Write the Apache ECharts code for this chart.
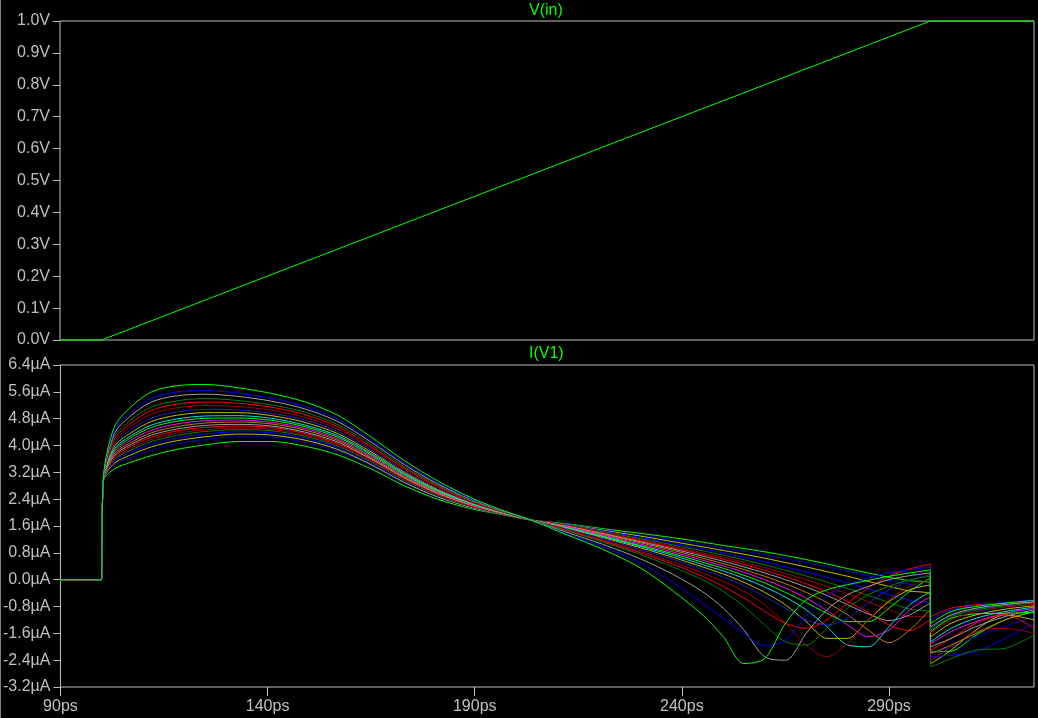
<!DOCTYPE html>
<html>
<head>
<meta charset="utf-8">
<title>V(in) / I(V1)</title>
<script src="https://cdn.jsdelivr.net/npm/echarts@6.0.0/dist/echarts.min.js"></script>
<style>
  html, body { margin: 0; padding: 0; background: #000; }
  #chart { width: 1038px; height: 718px; }
</style>
</head>
<body>
<div id="chart"></div>
<script>
// time axis (ps) and tick values
const timeTicks = [90, 140, 190, 240, 290];
const vTicks = [0, 0.1, 0.2, 0.3, 0.4, 0.5, 0.6, 0.7, 0.8, 0.9, 1.0];
const iTicks = [-3.2, -2.4, -1.6, -0.8, 0, 0.8, 1.6, 2.4, 3.2, 4.0, 4.8, 5.6, 6.4];

// V(in) ramp
const vinT = [90, 100, 300, 325];
const vinV = [0, 0, 1, 1];

// sample times for the I(V1) sweep
const tPs = [90, 99.9, 100, 100.4, 103, 107, 112, 118, 125, 133, 141, 149, 157, 165, 173, 181, 189, 196, 203.5,
  212, 221, 230, 238, 245, 250, 255, 260, 265, 270, 275, 280, 285, 290, 295, 299.9, 300.1, 305, 311, 318, 325];

// I(V1) in uA, one array per step
const step01 = [0,0,0.9,3.1,4.55,5.15,5.6,5.78,5.82,5.72,5.55,5.3,4.9,4.25,3.55,2.95,2.45,2.1,1.78, 1.35,0.9,0.35,-0.35,-1.05,-1.7,-2.5,-2.35,-1.3,-0.6,-0.3,-0.15,-0.02,0.1,0.2,0.29, -1.3,-0.95,-0.8,-0.7,-0.62];
const step02 = [0,0,0.9,3.09,4.43,4.99,5.41,5.59,5.64,5.56,5.41,5.17,4.78,4.16,3.48,2.9,2.42,2.09,1.78, 1.38,0.98,0.5,-0.1,-0.7,-1.15,-1.6,-1.97,-1.8,-1.1,-0.5,-0.15,0.05,0.2,0.3,0.38, -1.2,-0.9,-0.78,-0.68,-0.6];
const step03 = [0,0,0.9,3.08,4.35,4.89,5.3,5.48,5.53,5.46,5.32,5.09,4.71,4.1,3.43,2.86,2.4,2.08,1.78, 1.42,1.05,0.62,0.15,-0.36,-0.85,-1.5,-2.3,-2.4,-1.6,-0.9,-0.45,-0.2,0.0,0.12,0.2, -1.4,-1.05,-0.85,-0.74,-0.66];
const step04 = [0,0,0.9,3.06,4.26,4.76,5.15,5.33,5.4,5.34,5.21,4.99,4.62,4.03,3.37,2.82,2.37,2.07,1.78, 1.46,1.12,0.75,0.37,0.0,-0.35,-0.8,-1.35,-1.85,-1.95,-1.45,-0.85,-0.45,-0.2,0.0,0.1, -1.5,-1.1,-0.9,-0.78,-0.7];
const step05 = [0,0,0.9,3.06,4.19,4.67,5.05,5.23,5.3,5.26,5.14,4.92,4.56,3.97,3.33,2.79,2.35,2.06,1.78, 1.48,1.15,0.8,0.45,0.1,-0.2,-0.55,-0.95,-1.3,-1.45,-1.2,-0.7,-0.25,0.1,0.32,0.46, -1.1,-0.85,-0.75,-0.7,-0.68];
const step06 = [0,0,0.9,3.05,4.11,4.57,4.94,5.12,5.19,5.16,5.05,4.84,4.49,3.92,3.29,2.76,2.33,2.05,1.78, 1.5,1.18,0.85,0.52,0.2,-0.05,-0.35,-0.75,-1.3,-1.95,-2.3,-1.9,-1.2,-0.6,-0.2,0.0, -1.6,-1.2,-0.95,-0.82,-0.74];
const step07 = [0,0,0.9,3.04,4.04,4.47,4.82,5.0,5.08,5.06,4.96,4.76,4.42,3.86,3.24,2.72,2.31,2.04,1.78, 1.52,1.22,0.9,0.6,0.3,0.08,-0.18,-0.5,-0.85,-1.2,-1.35,-1.15,-0.7,-0.3,-0.02,0.15, -1.45,-1.05,-0.88,-0.76,-0.7];
const step08 = [0,0,0.9,3.03,3.97,4.38,4.72,4.9,4.98,4.98,4.89,4.69,4.35,3.81,3.2,2.69,2.3,2.03,1.78, 1.53,1.25,0.95,0.66,0.38,0.17,-0.08,-0.38,-0.75,-1.25,-1.75,-1.75,-1.2,-0.65,-0.3,-0.16, -1.7,-1.3,-1.05,-0.88,-0.78];
const step09 = [0,0,0.9,3.02,3.9,4.29,4.61,4.79,4.88,4.89,4.81,4.61,4.29,3.76,3.16,2.66,2.28,2.02,1.78, 1.55,1.28,0.99,0.72,0.45,0.26,0.04,-0.22,-0.52,-0.9,-1.4,-1.95,-2.0,-1.4,-0.75,-0.37, -1.85,-1.45,-1.15,-0.95,-0.82];
const step10 = [0,0,0.9,3.02,3.85,4.23,4.54,4.72,4.81,4.82,4.75,4.56,4.24,3.72,3.13,2.64,2.27,2.02,1.78, 1.56,1.3,1.02,0.77,0.52,0.34,0.13,-0.1,-0.38,-0.68,-1.0,-1.25,-1.25,-0.85,-0.35,0.05, -1.55,-1.15,-1.02,-1.0,-0.98];
const step11 = [0,0,0.9,3.01,3.8,4.16,4.46,4.64,4.74,4.76,4.69,4.51,4.19,3.68,3.1,2.62,2.25,2.01,1.78, 1.58,1.33,1.06,0.82,0.58,0.41,0.22,0.0,-0.25,-0.55,-0.92,-1.35,-1.7,-1.5,-0.9,-0.52, -1.9,-1.55,-1.25,-1.0,-0.86];
const step12 = [0,0,0.9,3.0,3.75,4.09,4.38,4.56,4.67,4.7,4.64,4.46,4.15,3.64,3.07,2.6,2.24,2.0,1.78, 1.59,1.35,1.1,0.87,0.64,0.48,0.3,0.1,-0.12,-0.38,-0.68,-1.05,-1.5,-1.88,-1.5,-0.9, -2.2,-1.95,-1.6,-1.2,-0.95];
const step13 = [0,0,0.9,3.0,3.7,4.03,4.31,4.49,4.6,4.63,4.58,4.4,4.1,3.6,3.04,2.58,2.23,2.0,1.78, 1.6,1.37,1.13,0.91,0.7,0.55,0.38,0.2,0.0,-0.22,-0.47,-0.75,-1.02,-1.22,-1.05,-0.7, -2.0,-1.75,-1.4,-1.1,-0.9];
const step14 = [0,0,0.9,2.99,3.66,3.98,4.25,4.43,4.54,4.58,4.54,4.36,4.06,3.58,3.02,2.56,2.22,1.99,1.78, 1.61,1.39,1.16,0.95,0.75,0.61,0.45,0.28,0.09,-0.12,-0.36,-0.65,-0.98,-1.35,-1.52,-1.2, -2.1,-1.75,-1.3,-1.05,-1.45];
const step15 = [0,0,0.9,2.99,3.61,3.91,4.18,4.36,4.47,4.52,4.48,4.31,4.02,3.54,2.99,2.54,2.2,1.99,1.78, 1.62,1.41,1.19,0.99,0.8,0.67,0.52,0.36,0.18,0.0,-0.2,-0.42,-0.66,-0.9,-1.1,-1.08, -2.4,-2.0,-1.55,-1.45,-1.6];
const step16 = [0,0,0.9,2.98,3.58,3.86,4.12,4.3,4.42,4.47,4.44,4.27,3.98,3.51,2.97,2.52,2.19,1.98,1.78, 1.63,1.43,1.22,1.03,0.86,0.73,0.59,0.44,0.28,0.11,-0.07,-0.26,-0.47,-0.68,-0.88,-1.0, -2.6,-2.35,-2.1,-2.05,-1.65];
const step17 = [0,0,0.9,2.98,3.53,3.8,4.04,4.22,4.34,4.41,4.38,4.22,3.93,3.47,2.94,2.5,2.18,1.98,1.78, 1.64,1.45,1.26,1.08,0.92,0.8,0.67,0.53,0.38,0.23,0.07,-0.1,-0.27,-0.45,-0.62,-0.75, -2.3,-2.25,-2.15,-1.75,-1.3];
const step18 = [0,0,0.9,2.97,3.47,3.72,3.96,4.14,4.26,4.34,4.31,4.16,3.88,3.43,2.9,2.47,2.16,1.97,1.78, 1.65,1.47,1.3,1.13,0.98,0.87,0.76,0.64,0.51,0.38,0.24,0.1,-0.05,-0.2,-0.34,-0.45, -2.5,-2.1,-1.5,-1.05,-1.2];
const step19 = [0,0,0.9,2.96,3.41,3.65,3.87,4.05,4.18,4.26,4.25,4.1,3.83,3.39,2.87,2.45,2.15,1.96,1.78, 1.66,1.49,1.33,1.19,1.05,0.95,0.85,0.74,0.63,0.51,0.39,0.26,0.12,-0.01,-0.14,-0.25, -2.2,-2.0,-1.7,-1.4,-1.1];
const step20 = [0,0,0.9,2.95,3.3,3.5,3.7,3.88,4.02,4.12,4.12,3.98,3.72,3.3,2.8,2.4,2.12,1.95,1.78, 1.67,1.52,1.38,1.25,1.12,1.02,0.93,0.83,0.72,0.6,0.47,0.33,0.2,0.07,-0.03,-0.12, -2.15,-2.13,-1.65,-1.2,-0.95];

const steps = [step01, step02, step03, step04, step05, step06, step07, step08, step09, step10,
  step11, step12, step13, step14, step15, step16, step17, step18, step19, step20];
const stepColors = ['#00ff00', '#0000ff', '#a0a0a0', '#008000', '#ff0000', '#a00000', '#2020c0', '#c0c000', '#00e0e0', '#00ff00',
  '#ff00ff', '#c08000', '#a0a0a0', '#ff0000', '#a00000', '#008000', '#0000ff', '#c0c000', '#0000c0', '#00ff00'];

const grey = '#c0c0c0';
const font = 'Liberation Sans';

const myChart = echarts.init(document.getElementById('chart'), null, { renderer: 'canvas' });

const fmt1 = v => (Math.abs(v) < 1e-9 ? 0 : v).toFixed(1);

const series = [];
// draw the lower steps first so the first step ends up on top
for (let k = steps.length - 1; k >= 0; k--) {
  series.push({
    type: 'line',
    xAxisIndex: 1,
    yAxisIndex: 1,
    data: tPs.map((t, i) => [t, steps[k][i]]),
    showSymbol: false,
    symbol: 'none',
    smooth: 0.3,
    lineStyle: { color: stepColors[k], width: 1 },
    silent: true
  });
}
series.push({
  type: 'line',
  xAxisIndex: 0,
  yAxisIndex: 0,
  data: vinT.map((t, i) => [t, vinV[i]]),
  symbol: 'none',
  clip: false,
  lineStyle: { color: '#00ff00', width: 1 },
  silent: true
});

const options = {
  backgroundColor: '#000',
  animation: false,
  grid: [
    { left: 60, top: 21, width: 974, height: 319, show: true, borderColor: grey, borderWidth: 1 },
    { left: 60, top: 365, width: 974, height: 322, show: true, borderColor: grey, borderWidth: 1 }
  ],
  xAxis: [
    { type: 'value', gridIndex: 0, min: 90, max: 325, show: false, splitLine: { show: false } },
    {
      type: 'value', gridIndex: 1, min: 90, max: 325, position: 'bottom',
      axisLine: { show: false, onZero: false },
      splitLine: { show: false },
      axisTick: { show: true, length: 9, lineStyle: { color: grey }, customValues: timeTicks },
      axisLabel: {
        customValues: timeTicks, color: grey, fontFamily: font, fontSize: 16, margin: 12,
        formatter: v => v + 'ps'
      }
    }
  ],
  yAxis: [
    {
      type: 'value', gridIndex: 0, min: 0, max: 1,
      axisLine: { show: false, onZero: false },
      splitLine: { show: false },
      axisTick: { show: true, length: 7, lineStyle: { color: grey }, customValues: vTicks },
      axisLabel: {
        customValues: vTicks, color: grey, fontFamily: font, fontSize: 16, margin: 10,
        formatter: v => fmt1(v) + 'V'
      }
    },
    {
      type: 'value', gridIndex: 1, min: -3.2, max: 6.4,
      axisLine: { show: false, onZero: false },
      splitLine: { show: false },
      axisTick: { show: true, length: 7, lineStyle: { color: grey }, customValues: iTicks },
      axisLabel: {
        customValues: iTicks, color: grey, fontFamily: font, fontSize: 16, margin: 10,
        formatter: v => fmt1(v) + 'µA'
      }
    }
  ],
  graphic: [
    { type: 'text', left: 547 - 18, top: 3, style: { text: 'V(in)', fill: '#00ff00', font: '16px "Liberation Sans"' } },
    { type: 'text', left: 547 - 18, top: 346, style: { text: 'I(V1)', fill: '#00ff00', font: '16px "Liberation Sans"' } },
    { type: 'line', shape: { x1: 0.5, y1: 0, x2: 0.5, y2: 718 }, style: { stroke: '#808080', lineWidth: 1 } }
  ],
  series: series
};

myChart.setOption(options);
</script>
</body>
</html>
